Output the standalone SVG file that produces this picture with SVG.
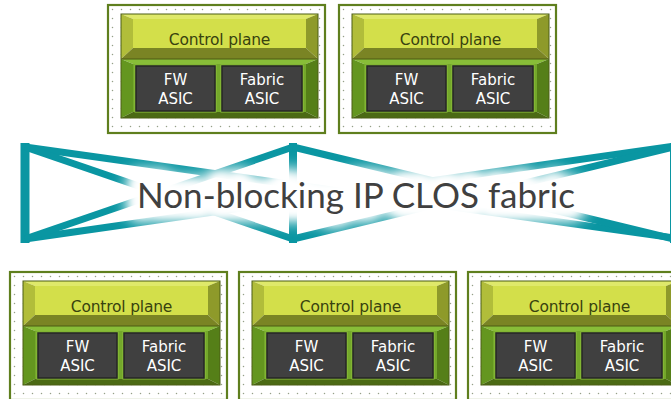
<svg xmlns="http://www.w3.org/2000/svg" width="671" height="399" viewBox="0 0 671 399">
<defs>
<style>
.cp{font-family:"DejaVu Sans","Open Sans","Liberation Sans",sans-serif;font-size:15.5px;fill:#38420f;text-anchor:middle;letter-spacing:-0.2px}
.as{font-family:"DejaVu Sans","Open Sans","Liberation Sans",sans-serif;font-size:15px;fill:#ffffff;text-anchor:middle}
.fl{fill:none;stroke:#0a96a2;stroke-width:7;stroke-linecap:butt}
.big{font-family:Lato,"Open Sans","Liberation Sans",sans-serif;font-size:35px;text-anchor:middle}
</style>
<pattern id="dots" x="0" y="0" width="9" height="9" patternUnits="userSpaceOnUse">
<rect width="9" height="9" fill="#ffffff"/>
<circle cx="4.5" cy="4.5" r="0.75" fill="#95a088"/>
</pattern>
<filter id="blur" x="-20%" y="-100%" width="140%" height="300%">
<feGaussianBlur stdDeviation="7"/>
</filter>
<filter id="blur2" x="-20%" y="-100%" width="140%" height="300%">
<feGaussianBlur stdDeviation="4"/>
</filter>
<g id="card">
<rect x="0" y="0" width="217" height="128" fill="url(#dots)" stroke="#5f7f1e" stroke-width="2.2"/>
<rect x="25" y="14" width="173" height="29" fill="#d3df4a"/>
<polygon points="13,9 210,9 198,14 25,14" fill="#dfe96a"/>
<polygon points="13,9 25,14 25,43 13,54" fill="#b1bd3a"/>
<polygon points="210,9 210,54 198,43 198,14" fill="#8e9a2a"/>
<polygon points="13,54 210,54 198,43 25,43" fill="#7a8424"/>
<rect x="25" y="59" width="173" height="48" fill="#74a82b"/>
<polygon points="13,54 210,54 198,59 25,59" fill="#88bd38"/>
<polygon points="13,54 25,59 25,107 13,113" fill="#64961f"/>
<polygon points="210,54 210,113 198,107 198,59" fill="#557f18"/>
<polygon points="13,113 210,113 198,107 25,107" fill="#4b6a14"/>
<line x1="13" y1="54" x2="210" y2="54" stroke="#4d5a12" stroke-width="1"/>
<rect x="13" y="9" width="197" height="104" fill="none" stroke="#4c5e14" stroke-width="1"/>
<rect x="27" y="60" width="81" height="47" fill="none" stroke="#8fc23d" stroke-width="1"/>
<rect x="113" y="60" width="82" height="47" fill="none" stroke="#8fc23d" stroke-width="1"/>
<rect x="28" y="61" width="79" height="45" fill="#404040" stroke="#262626" stroke-width="1.5"/>
<rect x="114" y="61" width="80" height="45" fill="#404040" stroke="#262626" stroke-width="1.5"/>
</g>
</defs>
<rect width="671" height="399" fill="#ffffff"/>

<g id="fabric">
<line class="fl" x1="25" y1="143" x2="25" y2="243" style="stroke-width:9"/>
<line class="fl" x1="293" y1="143" x2="293" y2="243" style="stroke-width:8"/>
<line class="fl" x1="674" y1="143" x2="674" y2="243" style="stroke-width:8"/>
<line class="fl" x1="25" y1="147" x2="674" y2="238"/>
<line class="fl" x1="25" y1="239" x2="674" y2="146"/>
<line class="fl" x1="25" y1="147" x2="293" y2="239"/>
<line class="fl" x1="25" y1="239" x2="293" y2="147"/>
<line class="fl" x1="293" y1="147" x2="674" y2="239"/>
<line class="fl" x1="293" y1="239" x2="674" y2="147"/>
<text class="big" x="356" y="208" fill="#ffffff" stroke="#ffffff" stroke-width="28" stroke-linejoin="round" filter="url(#blur)">Non-blocking IP CLOS fabric</text>
<text class="big" x="356" y="208" fill="#ffffff" stroke="#ffffff" stroke-width="14" stroke-linejoin="round" filter="url(#blur2)">Non-blocking IP CLOS fabric</text>
<text class="big" x="356" y="208" fill="#404040">Non-blocking IP CLOS fabric</text>
</g>

<g id="node-top-1" transform="translate(108,5)">
<use href="#card"/>
<text class="cp" x="111.5" y="40">Control plane</text>
<text class="as" x="67.5" y="80">FW</text>
<text class="as" x="67.5" y="99">ASIC</text>
<text class="as" x="154" y="80">Fabric</text>
<text class="as" x="154" y="99">ASIC</text>
</g>
<g id="node-top-2" transform="translate(339,5)">
<use href="#card"/>
<text class="cp" x="111.5" y="40">Control plane</text>
<text class="as" x="67.5" y="80">FW</text>
<text class="as" x="67.5" y="99">ASIC</text>
<text class="as" x="154" y="80">Fabric</text>
<text class="as" x="154" y="99">ASIC</text>
</g>
<g id="node-bottom-1" transform="translate(10,272)">
<use href="#card"/>
<text class="cp" x="111.5" y="40">Control plane</text>
<text class="as" x="67.5" y="80">FW</text>
<text class="as" x="67.5" y="99">ASIC</text>
<text class="as" x="154" y="80">Fabric</text>
<text class="as" x="154" y="99">ASIC</text>
</g>
<g id="node-bottom-2" transform="translate(239,272)">
<use href="#card"/>
<text class="cp" x="111.5" y="40">Control plane</text>
<text class="as" x="67.5" y="80">FW</text>
<text class="as" x="67.5" y="99">ASIC</text>
<text class="as" x="154" y="80">Fabric</text>
<text class="as" x="154" y="99">ASIC</text>
</g>
<g id="node-bottom-3" transform="translate(468,272)">
<use href="#card"/>
<text class="cp" x="111.5" y="40">Control plane</text>
<text class="as" x="67.5" y="80">FW</text>
<text class="as" x="67.5" y="99">ASIC</text>
<text class="as" x="154" y="80">Fabric</text>
<text class="as" x="154" y="99">ASIC</text>
</g>
</svg>
